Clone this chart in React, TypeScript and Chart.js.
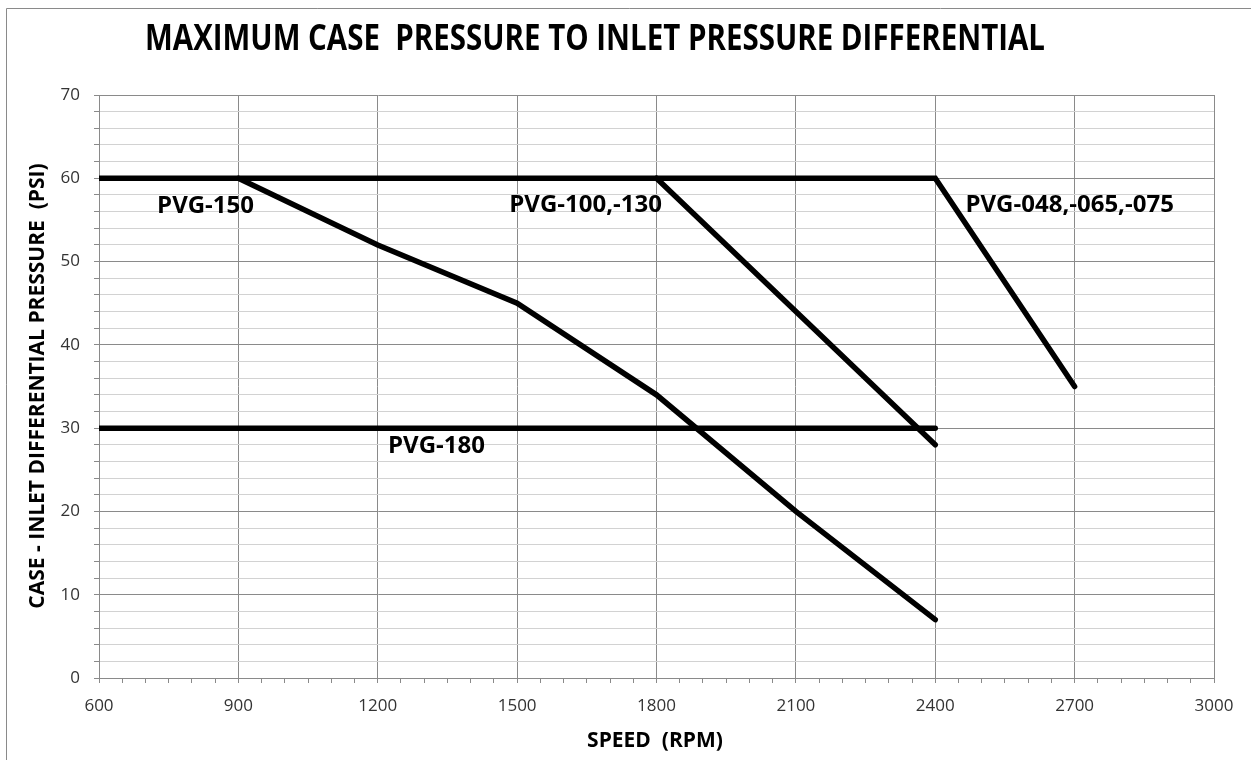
import React, { useEffect, useRef } from 'react';
import { Chart, registerables } from 'chart.js';

Chart.register(...registerables);

const TITLE = 'MAXIMUM CASE  PRESSURE TO INLET PRESSURE DIFFERENTIAL';
const X_TITLE = 'SPEED  (RPM)';
const Y_TITLE = 'CASE - INLET DIFFERENTIAL PRESSURE  (PSI)';

// Series data (speed in RPM, pressure in PSI)
const pvg048Speed = [600, 2400, 2700];
const pvg048Pressure = [60, 60, 35];

const pvg100Speed = [1800, 2400];
const pvg100Pressure = [60, 28];

const pvg150Speed = [900, 1200, 1500, 1800, 2100, 2400];
const pvg150Pressure = [60, 52, 45, 34, 20, 7];

const pvg180Speed = [600, 2400];
const pvg180Pressure = [30, 30];

// In-plot series labels (text, speed, pressure anchor)
const labelTexts = ['PVG-150', 'PVG-100,-130', 'PVG-048,-065,-075', 'PVG-180'];
const labelSpeeds = [725, 1483, 2465, 1222];
const labelPressures = [56.7, 56.8, 56.8, 27.8];

const X_MIN = 600;
const X_MAX = 3000;
const X_MINOR_STEP = 50;
const X_MAJOR_STEP = 300;
const Y_MIN = 0;
const Y_MAX = 70;
const Y_MINOR_STEP = 2;
const Y_MAJOR_STEP = 10;

const toPoints = (xs: number[], ys: number[]) => xs.map((x, i) => ({ x, y: ys[i] }));

const MAJOR = '#8a8a8a';
const MINOR = '#d2d2d2';

const textPlugin = {
  id: 'customTexts',
  afterDraw(chart: any) {
    const ctx = chart.ctx as CanvasRenderingContext2D;
    const xs = chart.scales.x;
    const ys = chart.scales.y;
    ctx.save();
    // outer frame (partially visible)
    ctx.strokeStyle = '#8a8a8a';
    ctx.lineWidth = 1;
    ctx.beginPath();
    ctx.moveTo(6.5, 800);
    ctx.lineTo(6.5, 8.5);
    ctx.lineTo(1300, 8.5);
    ctx.stroke();

    ctx.fillStyle = '#000';
    // title
    ctx.font = 'bold 35px "Open Sans"';
    ctx.textAlign = 'center';
    ctx.textBaseline = 'middle';
    ctx.fillText(TITLE, 595, 40, 900);

    // x axis title
    ctx.font = 'bold 21px "Open Sans"';
    ctx.fillText(X_TITLE, 655, 741, 140);

    // y axis title
    ctx.save();
    ctx.translate(38, 386);
    ctx.rotate(-Math.PI / 2);
    ctx.font = 'bold 21px "Open Sans"';
    ctx.fillText(Y_TITLE, 0, 0, 448);
    ctx.restore();

    // series labels
    ctx.font = 'bold 24px "Open Sans"';
    ctx.textAlign = 'left';
    labelTexts.forEach((t, i) => {
      ctx.fillText(t, xs.getPixelForValue(labelSpeeds[i]), ys.getPixelForValue(labelPressures[i]));
    });
    ctx.restore();
  },
};

export default function App() {
  const ref = useRef<HTMLCanvasElement>(null);

  useEffect(() => {
    document.body.style.margin = '0';
    const line = {
      borderColor: '#000',
      backgroundColor: '#000',
      borderWidth: 5.5,
      pointRadius: 0,
      fill: false,
      tension: 0,
      borderCapStyle: 'round' as const,
      borderJoinStyle: 'miter' as const,
    };
    const chart = new Chart(ref.current!, {
      type: 'line',
      data: {
        datasets: [
          { ...line, label: labelTexts[2], data: toPoints(pvg048Speed, pvg048Pressure) },
          { ...line, label: labelTexts[1], data: toPoints(pvg100Speed, pvg100Pressure) },
          { ...line, label: labelTexts[0], data: toPoints(pvg150Speed, pvg150Pressure) },
          { ...line, label: labelTexts[3], data: toPoints(pvg180Speed, pvg180Pressure) },
        ],
      },
      options: {
        responsive: false,
        animation: false,
        devicePixelRatio: 1,
        layout: { padding: { left: 0, right: 37, top: 95, bottom: 0 } },
        plugins: {
          legend: { display: false },
          title: { display: false },
          tooltip: { enabled: false },
        },
        scales: {
          x: {
            type: 'linear',
            min: X_MIN,
            max: X_MAX,
            afterFit: (s: any) => { s.height = 82; },
            ticks: {
              stepSize: X_MINOR_STEP,
              autoSkip: false,
              maxRotation: 0,
              padding: 13,
              color: '#333',
              font: { family: '"Open Sans"', size: 17 },
              callback: (v: any) => (Number(v) % X_MAJOR_STEP === 0 ? String(v) : ''),
            },
            grid: {
              color: (c: any) => (c.tick && c.tick.value % X_MAJOR_STEP === 0 ? MAJOR : 'rgba(0,0,0,0)'),
              tickColor: MAJOR,
              tickLength: 5,
              lineWidth: 1,
            },
            border: { color: MAJOR },
          },
          y: {
            type: 'linear',
            min: Y_MIN,
            max: Y_MAX,
            afterFit: (s: any) => { s.width = 99; },
            ticks: {
              stepSize: Y_MINOR_STEP,
              autoSkip: false,
              padding: 14,
              color: '#333',
              font: { family: '"Open Sans"', size: 17 },
              callback: (v: any) => (Number(v) % Y_MAJOR_STEP === 0 ? String(v) : ''),
            },
            grid: {
              color: (c: any) => (c.tick && c.tick.value % Y_MAJOR_STEP === 0 ? MAJOR : MINOR),
              tickColor: MAJOR,
              tickLength: 5,
              lineWidth: 1,
            },
            border: { color: MAJOR },
          },
        },
      },
      plugins: [textPlugin],
    });
    return () => chart.destroy();
  }, []);

  return (
    <div style={{ position: 'absolute', left: 0, top: 0, width: 1251, height: 760, background: '#fff' }}>
      <canvas ref={ref} width={1251} height={760} style={{ display: 'block' }} />
    </div>
  );
}
